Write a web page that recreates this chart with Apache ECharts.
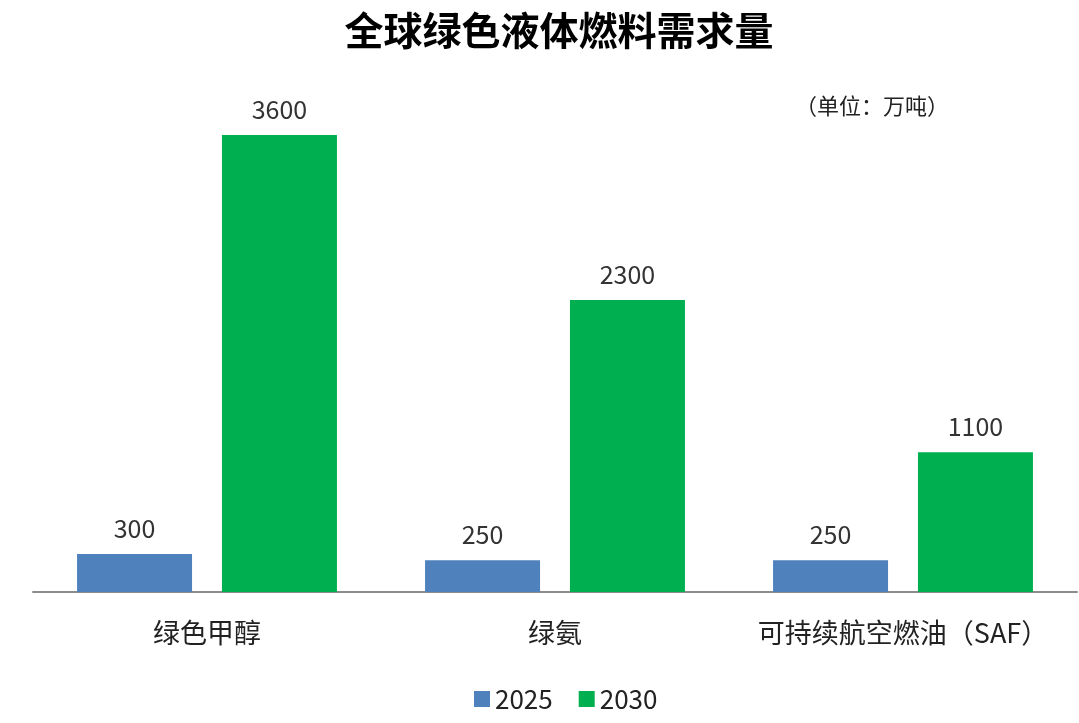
<!DOCTYPE html>
<html>
<head>
<meta charset="utf-8">
<script src="https://cdn.jsdelivr.net/npm/echarts@6/dist/echarts.min.js"></script>
<style>
  html, body { margin: 0; padding: 0; background: #fff; }
  #chart { width: 1079px; height: 723px; }
</style>
</head>
<body>
<div id="chart"></div>
<script>
// 数据
const categories = ['绿色甲醇', '绿氨', '可持续航空燃油（SAF）'];
const seriesNames = ['2025', '2030'];
const values2025 = [300, 250, 250];
const values2030 = [3600, 2300, 1100];

const fontFamily = '"Noto Sans CJK SC", "Microsoft YaHei", sans-serif';
const colors = ['#4f81bd', '#00b050'];

const chart = echarts.init(document.getElementById('chart'));

const labelStyle = {
    show: true,
    position: 'top',
    distance: 13,
    color: '#333',
    fontSize: 25,
    fontFamily: fontFamily
};

chart.setOption({
    animation: false,
    color: colors,
    title: [
        {
            text: '全球绿色液体燃料需求量',
            left: 554,
            top: 6,
            textAlign: 'center',
            textStyle: { fontSize: 39, fontWeight: 'bold', color: '#000', fontFamily: fontFamily }
        },
        {
            text: '（单位：万吨）',
            left: 790,
            top: 90,
            textStyle: { fontSize: 22, fontWeight: 'normal', color: '#222', fontFamily: fontFamily }
        }
    ],
    legend: {
        data: seriesNames,
        bottom: 6,
        left: 469,
        itemWidth: 16,
        itemHeight: 16,
        itemGap: 26,
        icon: 'rect',
        textStyle: { fontSize: 26, color: '#222', fontFamily: fontFamily }
    },
    grid: { left: 33, right: 2, top: 135, bottom: 131 },
    xAxis: {
        type: 'category',
        data: categories,
        axisLine: { lineStyle: { color: '#8c8c8c', width: 2 } },
        axisTick: { show: false },
        axisLabel: {
            interval: 0,
            hideOverlap: false,
            fontSize: 27,
            color: '#222',
            margin: 27,
            fontFamily: fontFamily
        }
    },
    yAxis: {
        type: 'value',
        min: 0,
        max: 3600,
        show: false,
        splitLine: { show: false }
    },
    series: [
        {
            name: seriesNames[0],
            type: 'bar',
            data: values2025,
            barWidth: 115,
            barGap: '26%',
            label: labelStyle
        },
        {
            name: seriesNames[1],
            type: 'bar',
            data: values2030,
            barWidth: 115,
            barGap: '26%',
            label: labelStyle
        }
    ]
});
</script>
</body>
</html>
